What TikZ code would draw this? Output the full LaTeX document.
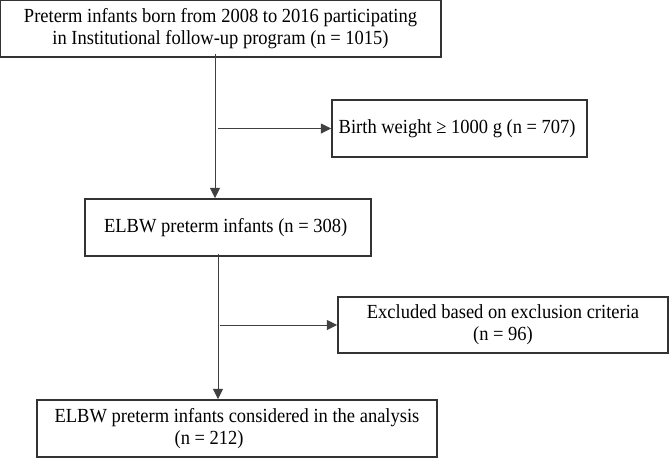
\documentclass[tikz,border=0pt]{standalone}
\usepackage{fontspec}
\setmainfont[FakeStretch=0.925]{Liberation Serif}
\usetikzlibrary{arrows.meta}

\begin{document}
\begin{tikzpicture}[x=1pt, y=-1pt,
    box/.style={rectangle, draw=black!80, line width=1.5pt, inner sep=0pt, align=center,
        font=\fontsize{20}{22}\selectfont},
    arr/.style={-{Triangle[length=10.5pt,width=10pt]}, line width=0.9pt, draw=black!75}]
    \useasboundingbox (0,0) rectangle (669,459);

    % Flow boxes
    \node[box, minimum width=441pt, minimum height=57pt] (cohort) at (220.5,28.5) {
        Preterm infants born from 2008 to 2016 participating\\
        in Institutional follow-up program (n = 1015)
    };
    \node[box, minimum width=255pt, minimum height=57pt] (weight) at (459.5,128.5) {
        Birth weight ≥ 1000 g (n = 707)
    };
    \node[box, minimum width=286pt, minimum height=57pt] (elbw) at (228,227.5) {
        ELBW preterm infants (n = 308)
    };
    \node[box, minimum width=330pt, minimum height=56pt] (excluded) at (503,325) {
        Excluded based on exclusion criteria\\
        (n = 96)
    };
    \node[box, align=left, minimum width=400pt, minimum height=57pt] (analysis) at (237,428.5) {
        ELBW preterm infants considered in the analysis\\
        \hspace*{120pt}(n = 212)
    };

    % Arrows
    \coordinate (split1) at (218,128.5);
    \coordinate (split2) at (220,325);
    \draw[arr] ([xshift=-5.5pt,yshift=4pt]cohort.south) -- ([xshift=-13pt]elbw.north);
    \draw[arr] ([xshift=-10pt,yshift=3pt]elbw.south) -- ([xshift=-19pt]analysis.north);
    \draw[arr] (split1) -- (weight.west);
    \draw[arr] (split2) -- (excluded.west);
\end{tikzpicture}
\end{document}
